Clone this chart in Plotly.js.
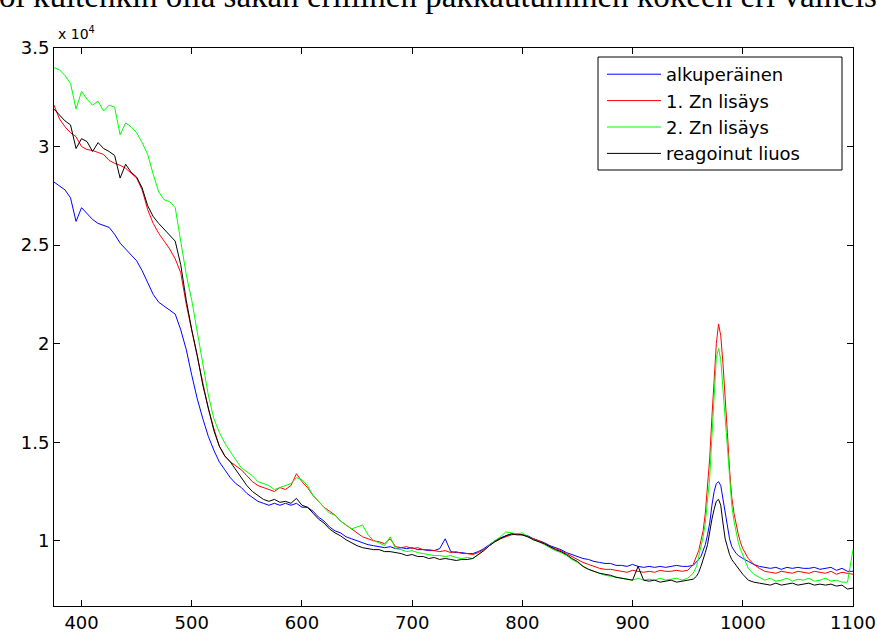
<!DOCTYPE html>
<html>
<head>
<meta charset="utf-8">
<script src="https://cdn.plot.ly/plotly-3.0.1.min.js"></script>
<style>
html,body{margin:0;padding:0;background:#fff;}
#chart{width:877px;height:632px;}
</style>
</head>
<body>
<div id="chart"></div>
<script>
// wavelength (nm)
const wavelength = [
375,380,385,390,395,400,405,410,415,420,425,430,435,440,445,450,455,460,465,470,
475,480,485,490,495,500,505,510,515,520,525,530,535,540,545,550,555,560,565,570,
575,580,585,590,595,600,605,610,615,620,625,630,635,640,645,650,655,660,665,670,
675,680,685,690,695,700,705,710,715,720,725,730,735,740,745,750,755,760,765,770,
775,780,785,790,795,800,805,810,815,820,825,830,835,840,845,850,855,860,865,870,
875,880,885,890,895,900,905,910,915,920,925,930,935,940,945,950,955,
958,960,962,964,966,968,970,972,974,976,978,980,982,984,986,988,990,992,994,996,998,1000,
1005,1010,1015,1020,1025,1030,1035,1040,1045,1050,1055,1060,1065,1070,1075,1080,1085,1090,1095,1100];

// intensities, in units of 10^4
const alkuperainen = [
2.82,2.80,2.78,2.74,2.62,2.69,2.66,2.63,2.61,2.60,2.59,2.555,2.51,2.48,2.45,2.42,2.37,2.31,2.25,2.21,
2.19,2.17,2.15,2.07,1.97,1.84,1.72,1.62,1.53,1.46,1.40,1.36,1.32,1.29,1.27,1.24,1.22,1.20,1.19,1.18,
1.19,1.18,1.19,1.18,1.19,1.17,1.17,1.15,1.12,1.10,1.07,1.05,1.04,1.02,1.01,1.00,0.99,0.98,0.975,0.97,
0.965,0.97,0.96,0.965,0.96,0.965,0.955,0.955,0.95,0.95,0.96,1.01,0.945,0.94,0.94,0.935,0.935,0.945,0.96,0.98,
1.00,1.015,1.025,1.035,1.035,1.03,1.025,1.01,1.00,0.99,0.975,0.965,0.955,0.94,0.93,0.92,0.91,0.905,0.895,0.89,
0.885,0.885,0.875,0.875,0.87,0.88,0.87,0.865,0.87,0.865,0.87,0.865,0.87,0.875,0.87,0.87,0.875,
0.89,0.905,0.92,0.95,0.98,1.03,1.09,1.18,1.25,1.29,1.30,1.28,1.21,1.13,1.06,1.01,0.97,0.95,0.935,0.925,0.915,0.91,
0.895,0.88,0.87,0.865,0.86,0.865,0.855,0.865,0.86,0.865,0.86,0.86,0.865,0.855,0.86,0.865,0.85,0.86,0.845,0.845];

const znLisays1 = [
3.21,3.14,3.10,3.07,3.05,3.00,2.985,2.98,2.97,2.96,2.93,2.915,2.905,2.89,2.865,2.84,2.78,2.68,2.61,2.56,
2.52,2.48,2.43,2.36,2.20,2.065,1.94,1.79,1.67,1.57,1.48,1.43,1.40,1.38,1.36,1.33,1.30,1.28,1.27,1.26,
1.25,1.27,1.26,1.28,1.34,1.30,1.27,1.23,1.20,1.17,1.15,1.13,1.10,1.08,1.06,1.04,1.02,1.01,1.00,0.995,
0.985,1.01,0.97,0.965,0.97,0.96,0.965,0.955,0.955,0.95,0.945,0.95,0.94,0.945,0.935,0.935,0.93,0.94,0.955,0.975,
0.995,1.01,1.02,1.03,1.035,1.03,1.02,1.01,1.00,0.985,0.97,0.96,0.95,0.935,0.92,0.905,0.89,0.88,0.87,0.86,
0.855,0.855,0.85,0.845,0.84,0.85,0.845,0.84,0.845,0.84,0.85,0.845,0.845,0.85,0.845,0.85,0.88,
0.92,0.95,1.00,1.05,1.14,1.27,1.42,1.63,1.84,2.00,2.10,2.04,1.90,1.75,1.55,1.36,1.22,1.14,1.08,1.03,0.99,0.96,
0.91,0.88,0.86,0.845,0.84,0.835,0.845,0.84,0.835,0.845,0.84,0.835,0.845,0.84,0.835,0.845,0.83,0.84,0.835,0.83];

const znLisays2 = [
3.40,3.39,3.36,3.32,3.19,3.28,3.24,3.21,3.23,3.18,3.21,3.20,3.06,3.12,3.10,3.07,3.02,2.96,2.86,2.77,
2.73,2.72,2.69,2.52,2.35,2.22,2.06,1.88,1.74,1.62,1.55,1.495,1.45,1.41,1.37,1.35,1.33,1.30,1.29,1.28,
1.26,1.27,1.28,1.29,1.32,1.31,1.28,1.23,1.20,1.17,1.14,1.13,1.10,1.08,1.06,1.07,1.08,1.03,1.00,0.99,
0.975,1.02,0.96,0.955,0.945,0.95,0.94,0.935,0.93,0.925,0.925,0.92,0.925,0.915,0.91,0.915,0.91,0.93,0.95,0.98,
1.00,1.02,1.045,1.04,1.035,1.04,1.02,1.005,0.995,0.98,0.965,0.95,0.94,0.925,0.905,0.89,0.87,0.855,0.845,0.835,
0.825,0.82,0.815,0.81,0.805,0.80,0.81,0.80,0.805,0.80,0.81,0.80,0.805,0.81,0.80,0.81,0.835,
0.87,0.92,0.97,1.02,1.09,1.20,1.32,1.53,1.75,1.93,1.975,1.92,1.77,1.62,1.45,1.30,1.18,1.10,1.04,0.99,0.955,0.93,
0.86,0.83,0.815,0.80,0.81,0.795,0.80,0.81,0.795,0.805,0.80,0.81,0.795,0.80,0.81,0.795,0.80,0.79,0.79,0.955];

const reagoinutLiuos = [
3.19,3.16,3.13,3.11,2.99,3.04,3.025,2.975,3.02,2.99,2.975,2.955,2.84,2.91,2.87,2.845,2.79,2.70,2.645,2.61,
2.58,2.555,2.52,2.40,2.22,2.07,1.94,1.79,1.67,1.56,1.48,1.43,1.40,1.36,1.32,1.28,1.25,1.23,1.21,1.20,
1.21,1.195,1.20,1.19,1.215,1.18,1.17,1.14,1.11,1.09,1.06,1.04,1.025,1.005,0.99,0.975,0.965,0.96,0.955,0.955,
0.945,0.945,0.94,0.935,0.925,0.93,0.92,0.92,0.91,0.915,0.905,0.91,0.905,0.90,0.905,0.905,0.91,0.93,0.95,0.975,
0.995,1.01,1.025,1.035,1.03,1.03,1.02,1.005,0.995,0.985,0.97,0.955,0.945,0.93,0.91,0.895,0.87,0.855,0.845,0.835,
0.83,0.825,0.815,0.81,0.805,0.80,0.87,0.80,0.795,0.80,0.79,0.795,0.80,0.79,0.795,0.80,0.805,
0.82,0.84,0.87,0.90,0.94,0.98,1.05,1.11,1.16,1.20,1.21,1.18,1.09,1.01,0.97,0.93,0.905,0.89,0.87,0.855,0.84,0.83,
0.80,0.79,0.785,0.78,0.775,0.785,0.775,0.78,0.785,0.775,0.78,0.785,0.775,0.78,0.775,0.78,0.77,0.775,0.755,0.76];

const seriesNames = ['alkuperäinen', '1. Zn lisäys', '2. Zn lisäys', 'reagoinut liuos'];
const seriesColors = ['#0000ff', '#ff0000', '#00ff00', '#000000'];
const seriesValues = [alkuperainen, znLisays1, znLisays2, reagoinutLiuos];

const xTicks = [400,500,600,700,800,900,1000,1100];
const yTicks = [1,1.5,2,2.5,3,3.5];

const traces = seriesValues.map((vals, i) => ({
  x: wavelength, y: vals, type: 'scatter', mode: 'lines',
  name: seriesNames[i],
  line: {color: seriesColors[i], width: 1}
}));

const font = {family: 'DejaVu Sans, Arial, sans-serif', size: 18, color: '#000'};

// plot area in pixels: left 54, right 853, top 48, bottom 606
const PW = 799, PH = 558;
const px2x = p => (p - 54) / PW;
const px2y = p => (606 - p) / PH;

const layout = {
  width: 877, height: 632,
  margin: {l: 54, r: 24, t: 48, b: 26, pad: 0},
  paper_bgcolor: '#fff', plot_bgcolor: '#fff',
  font: font,
  showlegend: true,
  legend: {
    x: px2x(602), y: px2y(56), xanchor: 'left', yanchor: 'top',
    bgcolor: 'rgba(0,0,0,0)', borderwidth: 0,
    font: {family: 'DejaVu Sans, Arial, sans-serif', size: 18, color: '#000'},
    itemwidth: 54, tracegroupgap: 0
  },
  shapes: [
    {type: 'rect', xref: 'paper', yref: 'paper', layer: 'above',
     x0: px2x(598), x1: px2x(842), y0: px2y(170), y1: px2y(57),
     line: {color: '#000', width: 1}, fillcolor: '#fff'}
  ],
  xaxis: {
    range: [375, 1100], tickvals: xTicks, ticktext: xTicks.map(String),
    ticks: 'inside', ticklen: 6, tickcolor: '#000', tickwidth: 1,
    showline: true, linecolor: '#000', linewidth: 1, mirror: 'ticks',
    showgrid: false, zeroline: false, tickfont: font
  },
  yaxis: {
    range: [0.669, 3.5], tickvals: yTicks, ticktext: yTicks.map(String),
    ticks: 'inside', ticklen: 6, tickcolor: '#000', tickwidth: 1,
    showline: true, linecolor: '#000', linewidth: 1, mirror: 'ticks',
    showgrid: false, zeroline: false, tickfont: font
  },
  annotations: [
    {text: 'x 10<sup>4</sup>', xref: 'paper', yref: 'paper', x: 0.002, y: 1, xanchor: 'left', yanchor: 'bottom',
     yshift: 4, showarrow: false, font: {family: 'DejaVu Sans, Arial, sans-serif', size: 14, color: '#000'}},
    {text: 'oi kuitenkin olla sakan erillinen pakkautuminen kokeen eri vaiheissa', xref: 'paper', yref: 'paper',
     x: px2x(-3), y: 1 + 52 / PH, xanchor: 'left', yanchor: 'middle', showarrow: false,
     font: {family: 'Liberation Serif, Times New Roman, serif', size: 33, color: '#000'}}
  ]
};

Plotly.newPlot('chart', traces, layout, {displayModeBar: false, staticPlot: true});
</script>
</body>
</html>
